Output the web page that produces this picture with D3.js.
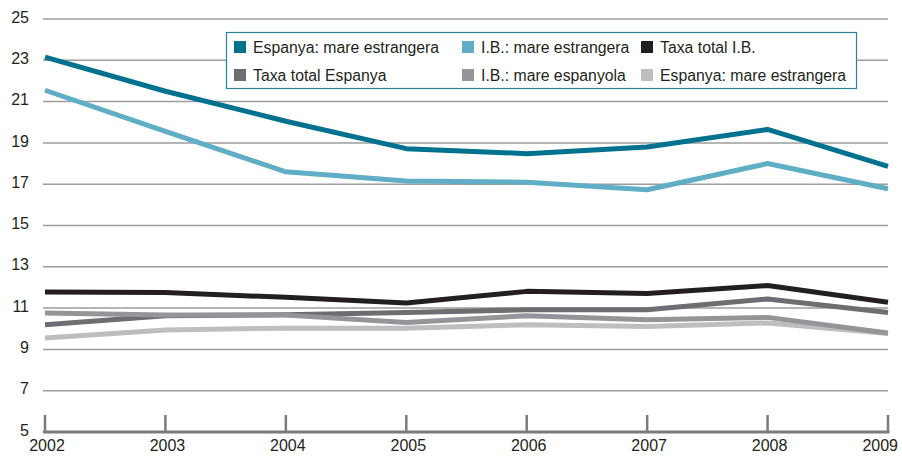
<!DOCTYPE html>
<html>
<head>
<meta charset="utf-8">
<script src="https://cdnjs.cloudflare.com/ajax/libs/d3/7.8.5/d3.min.js"></script>
<style>
  body { margin: 0; background: #fff; }
  svg text { font-family: "Liberation Sans", Arial, sans-serif; fill: #231f20; }
</style>
</head>
<body>
<div id="chart"></div>
<script>
// years on the x axis
var years = [2002, 2003, 2004, 2005, 2006, 2007, 2008, 2009];
var yTicks = [5, 7, 9, 11, 13, 15, 17, 19, 21, 23, 25];

// series values
var espanyaEstr = [23.15, 21.5, 20.05, 18.72, 18.48, 18.8, 19.65, 17.86];
var ibEstr = [21.55, 19.56, 17.6, 17.15, 17.1, 16.73, 18.0, 16.78];
var totalIB = [11.78, 11.76, 11.52, 11.25, 11.81, 11.71, 12.09, 11.28];
var totalEspanya = [10.19, 10.63, 10.68, 10.79, 10.92, 10.92, 11.44, 10.79];
var ibEspanyola = [10.76, 10.66, 10.66, 10.3, 10.63, 10.44, 10.55, 9.79];
var espanyaEstr2 = [9.55, 9.94, 10.03, 10.03, 10.19, 10.11, 10.28, 9.77];

var series = [
    { name: "Espanya: mare estrangera", values: espanyaEstr, color: "#00718f" },
    { name: "I.B.: mare estrangera", values: ibEstr, color: "#5faec5" },
    { name: "Taxa total I.B.", values: totalIB, color: "#231f20" },
    { name: "Taxa total Espanya", values: totalEspanya, color: "#6d6e71" },
    { name: "I.B.: mare espanyola", values: ibEspanyola, color: "#939598" },
    { name: "Espanya: mare estrangera", values: espanyaEstr2, color: "#bdbec0" }
];

var width = 902, height = 457;

var x = d3.scaleLinear().domain([2002, 2009]).range([45, 888]);
var y = d3.scaleLinear().domain([5, 25]).range([432, 19]);

var svg = d3.select("#chart")
    .append("svg")
    .attr("width", width)
    .attr("height", height);

// gridlines
svg.selectAll(".grid")
    .data(yTicks.slice(1))
    .enter()
    .append("line")
    .attr("class", "grid")
    .attr("x1", 43).attr("x2", 888)
    .attr("y1", function (d) { return y(d); })
    .attr("y2", function (d) { return y(d); })
    .attr("stroke", "#9d9d9d")
    .attr("stroke-width", 1.5);

// y labels
svg.selectAll(".ylab")
    .data(yTicks)
    .enter()
    .append("text")
    .attr("class", "ylab")
    .attr("x", 29)
    .attr("y", function (d) { return y(d) - 2; })
    .attr("dy", "0.35em")
    .attr("text-anchor", "end")
    .style("font-size", "16px")
    .text(function (d) { return d; });

// bottom axis line and ticks
svg.append("line")
    .attr("x1", 43).attr("x2", 889.5)
    .attr("y1", y(5)).attr("y2", y(5))
    .attr("stroke", "#7b7b7d")
    .attr("stroke-width", 3);

svg.selectAll(".tick")
    .data(years)
    .enter()
    .append("line")
    .attr("class", "tick")
    .attr("x1", function (d) { return x(d); })
    .attr("x2", function (d) { return x(d); })
    .attr("y1", y(5))
    .attr("y2", y(5) - 17)
    .attr("stroke", "#7b7b7d")
    .attr("stroke-width", 2.5);

svg.selectAll(".xlab")
    .data(years)
    .enter()
    .append("text")
    .attr("class", "xlab")
    .attr("x", function (d, i) { return i === years.length - 1 ? x(d) + 10 : x(d) + 2; })
    .attr("y", 451)
    .attr("text-anchor", function (d, i) { return i === years.length - 1 ? "end" : "middle"; })
    .style("font-size", "16px")
    .text(function (d) { return d; });

// lines, lighter ones underneath
var line = d3.line()
    .x(function (d, i) { return x(years[i]); })
    .y(function (d) { return y(d); });

var drawOrder = [5, 3, 4, 2, 1, 0];
drawOrder.forEach(function (k) {
    svg.append("path")
        .attr("d", line(series[k].values))
        .attr("fill", "none")
        .attr("stroke", series[k].color)
        .attr("stroke-width", 5)
        .attr("stroke-linejoin", "round");
});

// legend
var legend = svg.append("g");
legend.append("rect")
    .attr("x", 226.5).attr("y", 32.5)
    .attr("width", 630).attr("height", 56)
    .attr("fill", "#fff")
    .attr("stroke", "#2a809a")
    .attr("stroke-width", 1.2);

var colX = [234, 462, 641];
var rowY = [47, 75];
series.forEach(function (s, i) {
    var gx = colX[i % 3], gy = rowY[Math.floor(i / 3)];
    legend.append("rect")
        .attr("x", gx).attr("y", gy - 6)
        .attr("width", 12).attr("height", 12)
        .attr("fill", s.color);
    legend.append("text")
        .attr("x", gx + 19)
        .attr("y", gy)
        .attr("dy", "0.36em")
        .style("font-size", "15.8px")
        .text(s.name);
});
</script>
</body>
</html>
